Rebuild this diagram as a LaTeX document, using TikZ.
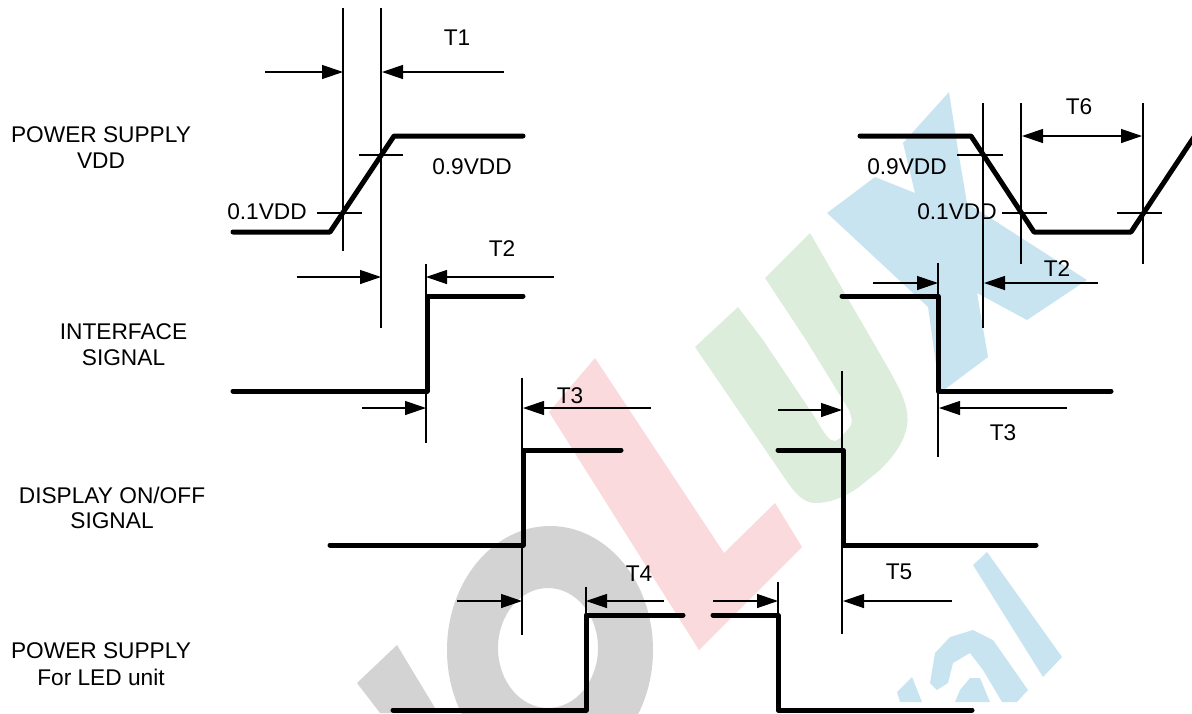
\documentclass[tikz,border=0pt]{standalone}
\usepackage{fontspec}
\setmainfont{Liberation Sans}
\usetikzlibrary{arrows.meta}
\definecolor{wmred}{HTML}{FADADC}
\definecolor{wmgreen}{HTML}{DCEDDC}
\definecolor{wmblue}{HTML}{C9E4F1}
\definecolor{wmgray}{HTML}{D3D3D3}
\tikzset{
  thinline/.style={line width=1.3pt,black},
  wave/.style={line width=5pt,black,line cap=round,line join=round},
  dim/.style={thinline,-{Triangle[length=21pt,width=14pt]}},
  lab/.style={inner sep=0pt,font=\fontsize{22.7}{27}\selectfont,align=center}
}
\begin{document}
\begin{tikzpicture}[x=1pt,y=-1pt]
\useasboundingbox (0,0) rectangle (1192,713);
\clip (0,0) rectangle (1192,713);
% watermark
\fill[wmblue] (949,92) -- (958,150) -- (967,203) -- (1087,280) -- (1027,320) -- (977,293) -- (988,357) -- (940,393) -- (928,307) -- (827,213) -- (875,177) -- (915,193) -- (903,143) -- cycle;
\fill[wmgreen] (695,347) -- (788,483) .. controls (800,500) and (808,503) .. (816,503) .. controls (830,503) and (845,497) .. (859,487) -- (880,470) .. controls (900,450) and (912,430) .. (906,407) .. controls (902,392) and (897,385) .. (891,373) -- (810,233) -- (765,278) -- (806,340) -- (849,410) .. controls (853,420) and (852,425) .. (849,428) .. controls (842,436) and (836,444) .. (831,440) .. controls (825,436) and (820,425) .. (810,410) -- (763,340) -- (738,307) -- cycle;
\fill[wmred] (595,358) -- (549,412) -- (699,650) -- (802,547) -- (775,503) -- (724,553) -- cycle;
\fill[wmgray,even odd rule] (550,650) ellipse [x radius=103,y radius=124] (548,648) ellipse [x radius=50,y radius=60];
\fill[wmgray] (397,645) -- (357,683) -- (380,713) -- (438,713) -- cycle;
\begin{scope}
\clip (0,0) rectangle (1192,702);
\fill[wmblue] (987,552) -- (973,565) -- (1043,677) -- (1062,657) -- cycle;
\fill[wmblue] (897,692) -- (912,677) -- (922,702) -- (900,702) -- cycle;
\fill[wmblue] (930,683) -- (935,653) -- (950,637) -- (973,630) -- (993,640) -- (1028,690) -- (1017,702) -- (1002,702) -- (983,670) -- (970,653) -- (953,663) -- (948,683) -- (937,690) -- cycle;
\fill[wmblue] (955,702) -- (960,690) -- (970,678) -- (980,678) -- (990,702) -- cycle;
\end{scope}
% guide lines
\foreach \x/\a/\b in {343/8/251,381/8/328,426/264/443,522/378/635,586/587/615,778/582/615,842/371/634,938/263/457,983/103/328,1021/103/264,1143/103/264}
  \draw[thinline] (\x,\a) -- (\x,\b);
% level ticks
\foreach \a/\b/\y in {359/403/155,317/362/213,957/1003/155,1002/1047/213,1117/1162/213}
  \draw[thinline] (\a,\y) -- (\b,\y);
% waveforms
\draw[wave] (233,232) -- (330,232) -- (394,136) -- (523,136);
\draw[wave] (233,391) -- (427,391) -- (427,296) -- (523,296);
\draw[wave] (330,545) -- (523,545) -- (523,450) -- (621,450);
\draw[wave] (393,710) -- (586,710) -- (586,615) -- (683,615);
\draw[wave] (713,615) -- (778,615) -- (778,710) -- (972,710);
\draw[wave] (778,450) -- (843,450) -- (843,545) -- (1036,545);
\draw[wave] (842,296) -- (938,296) -- (938,391) -- (1111,391);
\draw[wave] (860,136) -- (971,136) -- (1034,232) -- (1131,232) -- (1196,134);
% dimension arrows
\draw[dim] (265,72) -- (343,72);
\draw[dim] (504,72) -- (382,72);
\draw[dim] (297,277) -- (381,277);
\draw[dim] (554,277) -- (426,277);
\draw[dim] (362,408) -- (426,408);
\draw[dim] (651,408) -- (523,408);
\draw[dim] (457,601) -- (522,601);
\draw[dim] (664,601) -- (586,601);
\draw[dim] (713,601) -- (778,601);
\draw[dim] (952,601) -- (843,601);
\draw[dim] (778,410) -- (842,410);
\draw[dim] (873,283) -- (938,283);
\draw[dim] (1098,283) -- (984,283);
\draw[dim] (1067,408) -- (939,408);
\draw[thinline,{Triangle[length=21pt,width=14pt]}-{Triangle[length=21pt,width=14pt]}] (1022,136) -- (1142,136);
% labels
\node[lab] (lT1) at (457,38) {T1};
\node[lab] (lT2a) at (502,249) {T2};
\node[lab] (lT3a) at (570,396) {T3};
\node[lab] (lT4) at (639,574) {T4};
\node[lab] (lT5) at (899,572) {T5};
\node[lab] (lT6) at (1079,107) {T6};
\node[lab] (lT2b) at (1057,269) {T2};
\node[lab] (lT3b) at (1003,433) {T3};
\node[lab] (l09a) at (472,167) {0.9VDD};
\node[lab] (l01a) at (267,212) {0.1VDD};
\node[lab] (l09b) at (907,167) {0.9VDD};
\node[lab] (l01b) at (957,212) {0.1VDD};
\node[lab] (s1a) at (101,135) {POWER SUPPLY};
\node[lab] (s1b) at (101,161) {VDD};
\node[lab] (s2a) at (123.5,332) {INTERFACE};
\node[lab] (s2b) at (123.5,358) {SIGNAL};
\node[lab] (s3a) at (112,495) {DISPLAY ON/OFF};
\node[lab] (s3b) at (112,521) {SIGNAL};
\node[lab] (s4a) at (101,651) {POWER SUPPLY};
\node[lab] (s4b) at (101,677) {For LED unit};
\end{tikzpicture}
\end{document}
